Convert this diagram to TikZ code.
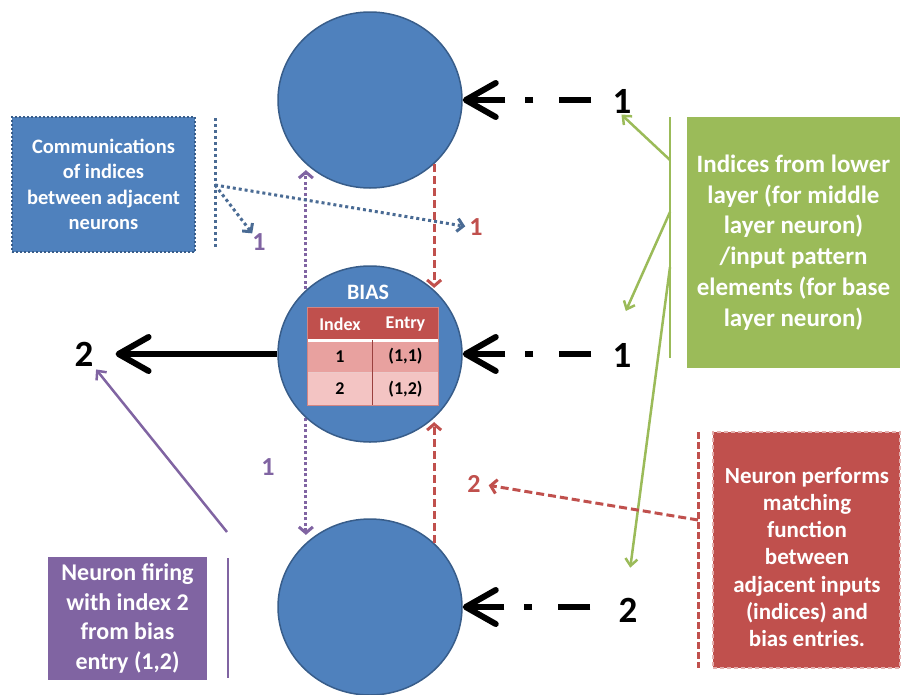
\documentclass[tikz,border=0pt]{standalone}
\usepackage{fontspec}
\setmainfont{Carlito}
\usetikzlibrary{arrows.meta,shapes.geometric,backgrounds,calc}
\definecolor{cblue}{HTML}{4F81BD}
\definecolor{cblueline}{HTML}{385D8A}
\definecolor{cred}{HTML}{C0504D}
\definecolor{cgreen}{HTML}{9BBB59}
\definecolor{cpurple}{HTML}{8064A2}
\definecolor{rowa}{HTML}{E8A19F}
\definecolor{rowb}{HTML}{F3C4C3}
\definecolor{dotblue}{HTML}{4A6B94}
\begin{document}
\begin{tikzpicture}[x=1pt,y=-1pt,
  neuron/.style={ellipse, fill=cblue, draw=cblueline, line width=1.5pt,
    minimum width=184pt, minimum height=176pt, inner sep=0pt},
  bignum/.style={font=\fontsize{37}{40}\selectfont\bfseries, text=black, inner sep=0pt},
  smallnum/.style={font=\fontsize{26}{30}\selectfont\bfseries, inner sep=0pt},
  bigarrow/.style={line width=6pt, -{Straight Barb[length=30pt,width=34pt,round]}},
  dashdot/.style={dash pattern=on 32pt off 26pt on 8pt off 20pt on 80pt},
  greenarrow/.style={cgreen, line width=2.5pt, -{Straight Barb[length=7pt,width=12pt]}},
  reddash/.style={cred, line width=3pt, dash pattern=on 8pt off 4pt,
    -{Straight Barb[length=6pt,width=14pt]}},
  purpledot/.style={cpurple, line width=3pt, dash pattern=on 3pt off 2.5pt,
    {Straight Barb[length=6pt,width=14pt]}-{Straight Barb[length=6pt,width=14pt]}},
  bluedot/.style={dotblue, line width=3pt, dash pattern=on 3pt off 3pt},
  bluedotarrow/.style={bluedot, -{Straight Barb[length=6pt,width=13pt]}},
  callout/.style={text=white, align=center, inner sep=0pt},
  cell/.style={minimum width=65pt, minimum height=32.5pt, inner sep=0pt,
    font=\fontsize{18}{20}\selectfont\bfseries},
]
\useasboundingbox (0,0) rectangle (902,694);

% neurons
\node[neuron] (top) at (370,100) {};
\node[neuron] (mid) at (370,354) {};
\node[neuron] (bot) at (370,607) {};

% purple dotted double arrow behind middle neuron
\begin{scope}[on background layer]
\draw[purpledot, shorten <=8pt, shorten >=6pt] (bot.135) -- (top.-135);
\end{scope}

% red dashed arrows
\draw[reddash, shorten >=2pt] (top.-45) -- (mid.45);
\draw[reddash, shorten >=4pt] (bot.45) -- (mid.-45);

% BIAS table
\node[callout, font=\fontsize{22}{24}\selectfont\bfseries] (bias) at (368,292) {BIAS};
\node[cell, fill=cred, text=white] (h1) at (340,324) {Index};
\node[cell, fill=cred, text=white] (h2) at (405.5,324) {Entry};
\node[cell, fill=rowa] (r11) at (340,356.5) {1};
\node[cell, fill=rowa] (r12) at (405.5,356.5) {(1,1)};
\node[cell, fill=rowb] (r21) at (340,389) {2};
\node[cell, fill=rowb] (r22) at (405.5,389) {(1,2)};
\draw[white, line width=2.5pt] (h1.south west) -- (h2.south east);
\draw[white!70!cred, line width=1pt] (r11.south west) -- (r12.south east);
\draw[cred!80!black, line width=0.8pt] (r11.north east) -- (r21.south east);
\draw[cred!70!white, line width=0.8pt] (h1.north west) rectangle (r22.south east);

% right-hand inputs
\node[bignum] (rt1) at (622,101) {1};
\node[bignum] (rm1) at (622,355) {1};
\node[bignum] (rb2) at (628,610) {2};
\draw[bigarrow, dashdot, shorten <=21pt] (rt1.west |- top.east) -- (top.east);
\draw[bigarrow, dashdot, shorten <=21pt] (rm1.west |- mid.east) -- (mid.east);
\draw[bigarrow, dashdot, shorten <=28pt] (rb2.west |- bot.east) -- (bot.east);

% left output
\node[bignum] (lm2) at (84,354) {2};
\draw[bigarrow, shorten >=22pt] (mid.west) -- (lm2.east |- mid.west);

% blue callout
\node[callout, fill=cblue, draw=cblueline, line width=2pt, dash pattern=on 2pt off 2pt,
  minimum width=183pt, minimum height=135pt,
  font=\fontsize{20.5}{25.5}\selectfont\bfseries] (bluebox) at (103.5,184.5)
  {Communications\\of indices\\between adjacent\\neurons};
\coordinate (bvtop) at (215,118);
\coordinate (bvbot) at (215,248);
\coordinate (bp) at (215,185);
\draw[bluedot] (bvtop) -- (bvbot);
\node[smallnum, text=cpurple] (p1a) at (259,242) {1};
\node[smallnum, text=cred] (r1a) at (476,227) {1};
\draw[bluedotarrow] (bp) -- (p1a.north west);
\draw[bluedotarrow, shorten >=4pt] (bp) -- (r1a.west);

% green callout
\node[callout, fill=cgreen, minimum width=213pt, minimum height=251pt,
  font=\fontsize{25}{30.7}\selectfont\bfseries] (greenbox) at (793.5,242.5)
  {Indices from lower\\layer (for middle\\layer neuron)\\/input pattern\\elements (for base\\layer neuron)};
\coordinate (gtop) at (670,117);
\coordinate (gbot) at (670,358);
\coordinate (ga) at (670,160);
\coordinate (gb) at (670,212);
\coordinate (gc) at (670,267);
\draw[cgreen, line width=2.5pt] (gtop) -- (gbot);
\draw[greenarrow, shorten >=2pt] (ga) -- ($(rt1.south)+(-2,0)$);
\draw[greenarrow, shorten >=2pt] (gb) -- ($(rm1.north)+(3,-30)$);
\draw[greenarrow, shorten >=2pt] (gc) -- ($(rb2.north)+(2,-28)$);

% red callout
\node[fill=cred, draw=white!55!cred, line width=1.5pt, dash pattern=on 4pt off 3pt,
  minimum width=187pt, minimum height=236pt] (redbox) at (806.5,550) {};
\node[callout, font=\fontsize{23}{27.2}\selectfont\bfseries] (redtext) at (807,557)
  {Neuron performs\\matching\\function\\between\\adjacent inputs\\(indices) and\\bias entries.};
\coordinate (rvtop) at (698,432);
\coordinate (rvbot) at (698,668);
\coordinate (rp) at (698,520);
\draw[cred, line width=3pt, dash pattern=on 7pt off 3pt] (rvtop) -- (rvbot);
\node[smallnum, text=cred] (r2a) at (474,484) {2};
\draw[reddash, shorten >=8pt] (rp) -- (r2a.east);

% purple callout
\node[callout, fill=cpurple, minimum width=159pt, minimum height=123pt,
  font=\fontsize{24}{29.5}\selectfont\bfseries] (purplebox) at (127.5,618.5)
  {Neuron firing\\with index 2\\from bias\\entry (1,2)};
\coordinate (pvtop) at (228,558);
\coordinate (pvbot) at (228,678);
\draw[cpurple, line width=2.5pt] (pvtop) -- (pvbot);
\coordinate (pp) at (227,532);
\draw[cpurple, line width=2.5pt, -{Straight Barb[length=7pt,width=13pt]}, shorten >=4pt]
  (pp) -- (lm2.south east);
\node[smallnum, text=cpurple] (p1b) at (268,467) {1};

\end{tikzpicture}
\end{document}
